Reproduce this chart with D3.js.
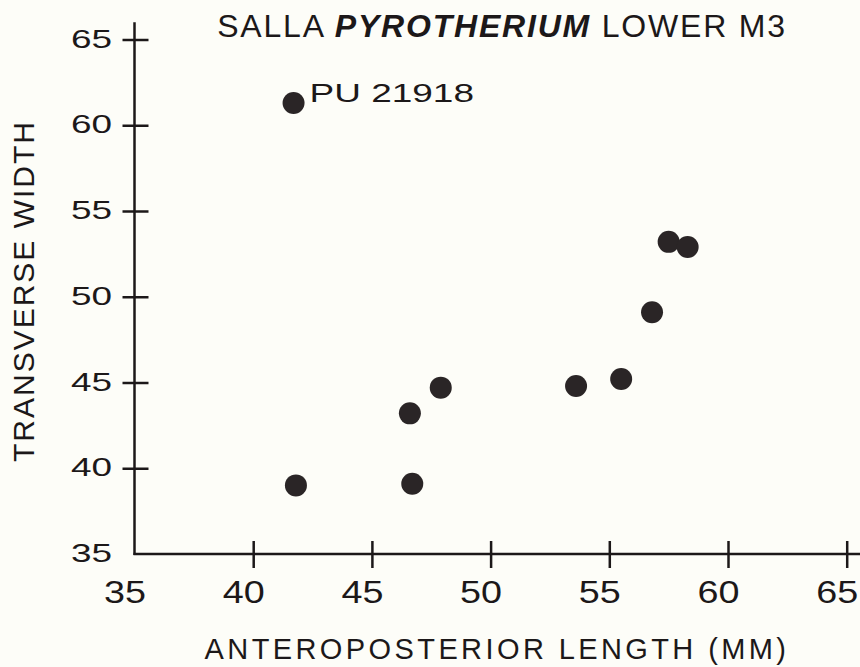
<!DOCTYPE html>
<html>
<head>
<meta charset="utf-8">
<script src="https://cdn.jsdelivr.net/npm/d3@7"></script>
<style>
  body { margin: 0; background: #fdfdf8; }
  svg { display: block; font-family: "Liberation Sans", Arial, sans-serif; }
  .axis line, .axis path { stroke: #1c1819; stroke-width: 2.5; }
  text { fill: #1c1819; }
</style>
</head>
<body>
<div id="chart"></div>
<script>
// values (mm)
const lengthAP = [41.7, 47.9, 46.6, 41.8, 46.7, 57.5, 58.3, 56.8, 53.6, 55.5];
const widthTR  = [61.3, 44.7, 43.2, 39.0, 39.1, 53.2, 52.9, 49.1, 44.8, 45.2];
const pointLabels = ["PU 21918", "", "", "", "", "", "", "", "", ""];
const xTicks = [35, 40, 45, 50, 55, 60, 65];
const yTicks = [35, 40, 45, 50, 55, 60, 65];

const W = 860, H = 667;

const svg = d3.select("#chart").append("svg")
    .attr("width", W)
    .attr("height", H);

svg.append("rect").attr("width", W).attr("height", H).attr("fill", "#fdfdf8");

// scales
const x = d3.scaleLinear().domain([35, 65]).range([134.5, 846.7]);
const y = d3.scaleLinear().domain([35, 65]).range([554, 39.5]);

// y axis
const gy = svg.append("g")
    .attr("class", "axis")
    .attr("transform", "translate(" + x(35) + ",0)")
    .call(d3.axisLeft(y).tickValues(yTicks).tickFormat(d3.format("d")));
gy.select(".domain").remove();
gy.selectAll(".tick").filter(d => d === 35).select("line").remove();
gy.selectAll(".tick line").attr("x1", -12).attr("x2", 14);
gy.selectAll(".tick text")
    .attr("x", null).attr("dy", null)
    .attr("text-anchor", "end")
    .attr("font-size", 26)
    .attr("transform", "translate(-22.5,7.5) scale(1.42,1)");

// x axis
const gx = svg.append("g")
    .attr("class", "axis")
    .attr("transform", "translate(0," + y(35) + ")")
    .call(d3.axisBottom(x).tickValues(xTicks).tickFormat(d3.format("d")));
gx.select(".domain").remove();
gx.selectAll(".tick").filter(d => d === 35).select("line").remove();
gx.selectAll(".tick line").attr("y1", -13).attr("y2", 14);
gx.selectAll(".tick text")
    .attr("y", null).attr("dy", null)
    .attr("text-anchor", "middle")
    .attr("font-size", 32)
    .attr("transform", "translate(-10,49) scale(1.18,1)");

// axis lines (y runs a little above 65, x to the right edge)
svg.append("line")
    .attr("x1", x(35)).attr("x2", x(35))
    .attr("y1", y(35) + 1).attr("y2", y(66))
    .attr("stroke", "#1c1819").attr("stroke-width", 2.5);
svg.append("line")
    .attr("x1", x(35) - 1).attr("x2", W)
    .attr("y1", y(35)).attr("y2", y(35))
    .attr("stroke", "#1c1819").attr("stroke-width", 2.5);

// points
const pts = lengthAP.map((v, i) => ({ x: v, y: widthTR[i], label: pointLabels[i] }));

svg.append("g").selectAll("circle")
    .data(pts)
    .join("circle")
    .attr("cx", d => x(d.x))
    .attr("cy", d => y(d.y))
    .attr("r", 11)
    .attr("fill", "#2a2526");

svg.append("g").selectAll("text")
    .data(pts.filter(d => d.label))
    .join("text")
    .attr("font-size", 25.5)
    .attr("transform", d => "translate(" + (x(d.x) + 16) + "," + (y(d.y) - 0.5) + ") scale(1.45,1)")
    .text(d => d.label);

// title
const title = svg.append("text")
    .attr("x", 502)
    .attr("y", 37)
    .attr("text-anchor", "middle")
    .attr("font-size", 32)
    .attr("letter-spacing", 1.8);
title.append("tspan").text("SALLA ");
title.append("tspan").attr("font-weight", "bold").attr("font-style", "italic").text("PYROTHERIUM");
title.append("tspan").text(" LOWER M3");

// axis titles
svg.append("text")
    .attr("transform", "translate(33.5,291) rotate(-90)")
    .attr("text-anchor", "middle")
    .attr("font-size", 30)
    .attr("letter-spacing", 2)
    .text("TRANSVERSE WIDTH");

svg.append("text")
    .attr("x", 497)
    .attr("y", 659)
    .attr("text-anchor", "middle")
    .attr("font-size", 29)
    .attr("letter-spacing", 3.4)
    .text("ANTEROPOSTERIOR LENGTH (MM)");
</script>
</body>
</html>
